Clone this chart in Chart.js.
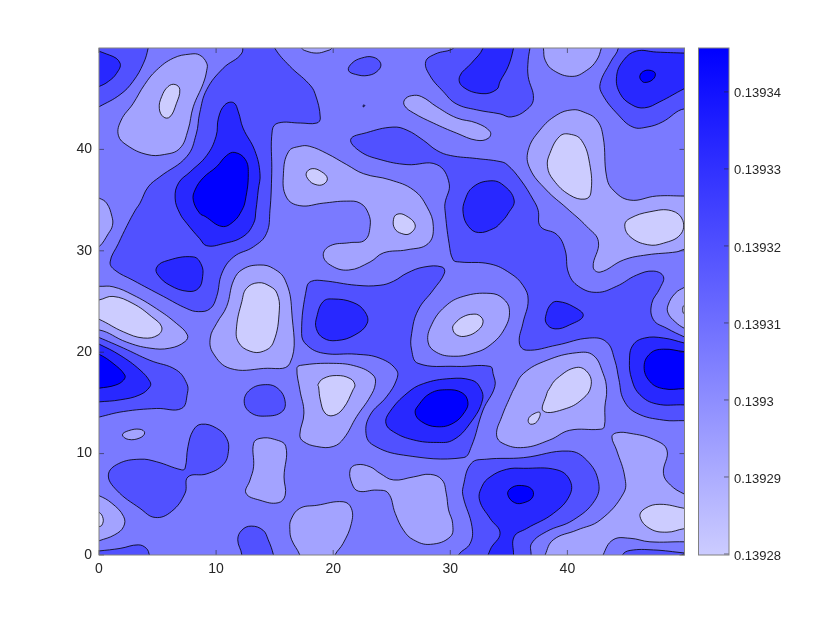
<!DOCTYPE html>
<html>
<head>
<meta charset="utf-8">
<style>
  html, body { margin: 0; padding: 0; background: #fff; }
  canvas { position: absolute; left: 0; top: 0; }
</style>
<script src="https://cdn.jsdelivr.net/npm/chart.js@4"></script>
</head>
<body>
<canvas id="contour" width="830" height="623"></canvas>
<canvas id="colorbar" width="830" height="623"></canvas>
<script>
// contour outlines in data units
const xTicks = [0, 10, 20, 30, 40];
const yTicks = [0, 10, 20, 30, 40];
const barTicks = [0.13934, 0.13933, 0.13932, 0.13931, 0.1393, 0.13929, 0.13928];
const barLabels = ['0.13934', '0.13933', '0.13932', '0.13931', '0.1393', '0.13929', '0.13928'];
const barRange = [0.13927987, 0.1393457];

const background = [[-2,-2],[52,-2],[52,52],[-2,52]];

const light1 = [
  [[9.2,48.5],[8.6,49.3],[7.8,49.4],[6.35,49],[4.9,47.8],[3.9,46.4],[2.9,44.5],[1.9,42.9],[1.65,41.4],[2.4,40.4],[4.1,39.5],[5.6,39.5],[6.9,40.1],[7.6,41.9],[8.05,44.2],[8.9,46.5],[9.2,47.8]],
  [[-1,35.6],[0,35.2],[0.65,34.7],[1.1,33.4],[1.15,32.5],[0.8,31.7],[0,30.4],[-1,29.8]],
  [[17,51],[17.3,50],[17.7,49.7],[18.6,49.5],[19.4,49.7],[19.9,50],[20.2,51]],
  [[37.8,51],[37.95,50],[38.1,48.8],[38.8,47.8],[40.4,47.2],[41.65,47.8],[42.5,48.8],[42.9,50],[43.1,51]],
  [[26.1,44.9],[26.7,45.3],[27.55,45.2],[28.85,44.2],[30.55,43.1],[32.25,42.6],[33.4,41.75],[33.25,41.1],[32.25,40.9],[30.55,41.6],[28.55,42.6],[26.85,43.6],[26.1,44.3]],
  [[40.4,43.9],[39.1,43.4],[37.65,41.9],[36.65,39.9],[36.8,38.1],[38.2,36],[39.95,34.2],[41.65,32.4],[42.65,30.9],[42.2,28.4],[42.8,27.9],[44.8,29.1],[46.8,29.6],[49.35,29.9],[50,30.15],[51,30.2],[51,35.4],[50,35.4],[47.6,35.4],[45.35,35],[43.9,36],[43.35,37.3],[43.05,41.25],[42.5,42.9],[41.35,43.7]],
  [[18,40.3],[17.15,40.3],[16.2,39.8],[15.75,37.6],[16,35.3],[17.15,34.45],[19.15,34.7],[21.15,34.9],[22.3,34.7],[23,33.7],[23.15,32.4],[22.7,31.05],[21.4,30.8],[19.75,30.5],[19.15,29.6],[19.75,28.6],[21.3,28.1],[23.15,28.9],[24.3,29.8],[26.3,30.1],[28.1,30.7],[28.55,32.4],[28,34.35],[26.85,36],[24.85,37],[22.6,37.6],[21.15,38.5],[19.45,39.6]],
  [[16.9,18.4],[17.2,18.7],[20,18.9],[22,18.6],[23.4,17.75],[23.6,16.9],[23.15,15.6],[22,13.65],[20.9,11.5],[20,10.7],[18.6,10.7],[17.45,11.2],[17.15,11.85],[17.5,14],[17.15,16.3]],
  [[13.2,11],[13.75,11.5],[15,11.4],[15.95,10.7],[15.8,7.7],[15.9,5.9],[15.3,5.15],[13.75,5.4],[12.55,6.1],[12.9,7.4],[13.2,8.7]],
  [[2,11.85],[2.5,12.25],[3.5,12.4],[3.9,12.05],[3.5,11.55],[2.5,11.4]],
  [[-1,6.2],[0,5.85],[1.1,5.1],[2.1,3.8],[2.1,2.8],[1.35,2],[0,1.4],[-1,1]],
  [[17.15,4.6],[18.6,4.9],[20.85,5.25],[21.55,4.6],[21.55,3.1],[20.85,1.15],[20.15,0],[19.9,-1],[17.3,-1],[17.15,0],[16.45,1.5],[16.3,2.5],[16.4,3.5]],
  [[21.45,8.4],[22,8.9],[23.15,8.7],[24,8.05],[25.15,7.4],[26.85,7.7],[28.3,7.95],[29.3,7.4],[29.65,6.1],[29.85,4.45],[30.2,3.1],[30,1.8],[28.3,1.05],[26.85,1.5],[26,2.45],[25.3,4.1],[24.7,6.1],[23.75,6.4],[22.15,6.3],[21.6,7.05]],
  [[35.4,16.3],[36.25,17.9],[38.25,19.2],[40.8,19.95],[42.2,19.7],[43.05,17.9],[43.35,16.3],[43.2,14.6],[43.15,12.65],[42.8,12.4],[40.2,12.3],[38.5,11.35],[36.25,10.6],[34.5,11],[33.95,11.85],[34.4,13.65],[35.25,15.95]],
  [[43.8,11.65],[44.2,12.05],[45.35,12],[47.35,11.4],[48.5,10.35],[48.2,8.05],[48.8,6.9],[50,6],[51,5.6],[51,1.2],[50,1.3],[47.05,1.3],[45.35,1.65],[43.9,1.5],[43.05,0],[42.9,-1],[37.9,-1],[38.1,0],[38.8,1.5],[40.8,2.45],[42.8,3.45],[44.8,6.1],[44.9,7.7],[44.2,10.35]],
  [[51,26.9],[50,26.4],[49.2,25.8],[48.6,24.65],[48.6,23.85],[49.2,23],[50,22.35],[51,21.9]],
  [[-1,26.6],[0,26.5],[1.2,26.45],[2.9,25.65],[4.9,24.3],[6.6,22.85],[7.55,21.7],[7.35,21.05],[6.05,20.4],[4.35,20.4],[2.35,21],[0,22.2],[-1,21.8]],
  [[13.75,28.6],[12.3,28.2],[11.5,27.1],[10.9,24.5],[10.05,22.85],[9.5,21.4],[9.75,19.9],[11.2,18.4],[14.05,18.4],[16.3,18.9],[16.45,24.15],[15.9,27.1],[14.9,28.25]],
  [[33.4,25.8],[34.5,25.3],[35.05,24.15],[34.65,22.35],[33.4,20.7],[31.95,19.9],[30.25,19.6],[28.8,20],[28.1,21],[28.4,22.7],[29.55,24.5],[31.1,25.5]]
];

const light2 = [
  [[6.9,45.9],[6.5,46.4],[5.9,46.2],[5.35,45.2],[5.15,44.05],[5.5,43.2],[6.05,43.2],[6.6,44.5]],
  [[40.2,41.5],[39.35,41.3],[38.5,39.6],[38.3,38.3],[38.8,37],[40.2,35.5],[41.5,35.1],[42,35.7],[41.9,38.6],[41.2,40.9]],
  [[44.9,32.55],[45.35,33.2],[47.05,33.85],[48.9,33.95],[49.85,33],[49.65,31.6],[48.2,30.75],[46.85,30.6],[45.35,31.4]],
  [[17.7,37.65],[18.2,38.1],[19,37.8],[19.5,37.15],[19.15,36.55],[18.45,36.55],[17.9,37]],
  [[25.15,33.1],[25.45,33.6],[26.15,33.5],[27,32.55],[26.55,31.7],[25.85,31.7],[25.25,32.2]],
  [[18.7,16.8],[19.15,17.4],[20.3,17.7],[21.45,17.4],[21.85,16.8],[21.7,16.3],[20.85,14.45],[20,13.75],[19.3,14],[18.9,15.3],[18.75,16.6]],
  [[-1,4.4],[0,4.2],[0.35,3.6],[0.25,2.95],[0,2.8],[-1,2.6]],
  [[38.4,16.3],[39.1,17.4],[40.8,18.5],[41.8,17.9],[42,16.6],[41.35,15.45],[39.9,14.45],[37.95,14.2],[38.25,15.95]],
  [[36.65,13.3],[36.95,13.8],[37.65,14.05],[37.4,13.15],[36.85,12.9]],
  [[46.2,3.8],[46.65,4.6],[47.9,5],[50,4.6],[51,4.4],[51,2.6],[50,2.6],[48.5,2.25],[47.05,2.6]],
  [[51,25],[50,24.65],[49.85,24.25],[50,23.75],[51,23.5]],
  [[-1,25],[0,25.15],[1.2,25.5],[2.9,24.8],[4.5,23.5],[5.35,22.5],[5.05,21.7],[3.8,21.4],[2.1,22],[0,23.25],[-1,23.6]],
  [[13.6,26.85],[12.6,26.3],[12.2,25],[11.75,22.5],[11.9,21],[12.9,20.1],[14.05,20.1],[14.9,21],[15.4,24.15],[15.2,25.8],[14.6,26.5]],
  [[31.95,23.75],[31.1,23.5],[30.4,22.85],[30.2,22.35],[30.55,21.7],[31.4,21.6],[32.4,22.2],[32.8,23],[32.5,23.6]]
];

const dark1 = [
  [[-1,51],[4.3,51],[4.2,50],[3.8,48.5],[2.9,46.7],[1.8,45.4],[0,44.2],[-1,43.6]],
  [[12.3,51],[12.2,49.5],[10.6,48],[9.2,45.9],[8.6,43.6],[8.3,41.5],[7.5,39.3],[5.2,37.3],[4.2,36.3],[3.5,34.7],[3.1,34],[2.4,32.5],[1.65,30.7],[0.95,28.9],[1.35,28.1],[2.9,27.1],[5.5,25.5],[7.5,24.3],[8.5,24],[9.5,24.3],[10.05,25.5],[10.5,27.8],[11.5,29.4],[13.2,30.4],[14.3,31.7],[14.6,34],[14.75,37.6],[14.8,41.9],[15.3,42.6],[17.2,42.6],[18.6,42.6],[18.9,43.1],[18.45,45.5],[17.9,46.5],[16.3,48.2],[15,50],[14.8,51]],
  [[21.3,47.8],[21.6,48.5],[22.4,49],[23.4,49.1],[24.05,48.5],[23.85,47.8],[23,47.3],[21.9,47.4]],
  [[22.55,44.2],[22.7,44.3],[22.6,44.4]],
  [[30.6,51],[30.3,50],[28.7,49.4],[27.9,48.65],[28.25,47.3],[29.4,45.7],[30.5,44.5],[32.25,43.9],[34.25,43.5],[35.2,43.2],[36.5,43.9],[37.1,45],[36.65,47.2],[36.65,48.8],[36.8,50],[36.9,51]],
  [[44.1,51],[44.35,50],[43.7,48.65],[42.8,46.5],[43,45.4],[44.35,43.4],[45.6,42.2],[46.8,42.2],[48.1,42.7],[50,44],[51,43.2],[51,51]],
  [[21.5,41],[22.85,41.65],[25.1,42.2],[26.3,41.9],[27.7,40.9],[28.85,39.9],[30,39.4],[32.25,39.1],[34.25,38.8],[34.85,38.5],[36,37],[37.1,35],[37.5,34],[37.7,32.4],[39.1,31.6],[39.8,30.1],[40.1,27.8],[40.95,26.5],[42.5,25.9],[44.2,26.5],[45.9,27.6],[47.35,28],[48.2,27.45],[47.9,26.3],[47.2,24.8],[47.35,23.2],[48.5,22.35],[50,21.5],[51,21],[51,13.2],[50,13.25],[48.2,13.3],[45.9,14],[44.8,15.3],[44.4,17.3],[44.05,19.2],[43.35,21],[41.9,21.4],[39.1,20.7],[36.5,20.2],[35.9,20.9],[36.2,22.85],[36.65,25.15],[36.2,26.6],[35.1,27.8],[33.4,28.7],[30.8,28.9],[30.25,29.1],[29.9,30.7],[29.55,34],[29.55,34.7],[29.9,36.65],[28.85,38.5],[26.3,38.5],[24,39],[22.3,39.8]],
  [[18.15,27],[17.75,26.45],[17.3,21.85],[17.75,20.7],[19.15,19.9],[22,19.8],[24,19.4],[25.4,18.25],[25.4,17.25],[24.55,15.6],[23.15,13.8],[22.8,12],[23.4,10.85],[26,9.85],[31.1,9.6],[31.8,10.7],[32.8,14.3],[33.8,16.6],[33.65,17.9],[33.4,18.6],[30.55,18.6],[27.25,18.9],[26.7,20.2],[26.7,21.85],[27.25,24.15],[28.55,26.15],[29.5,27.8],[29.3,28.4],[27.75,28.4],[26.3,27.8],[25.15,27],[24,26.6],[22,26.6],[19.15,27.05]],
  [[12.4,15.1],[12.9,16.3],[14.2,16.8],[15.3,16.4],[15.9,15.1],[15.6,14.1],[14.3,13.7],[13,14]],
  [[0.8,7.9],[1.65,9],[3.5,9.45],[4.9,9.2],[7.05,8.4],[7.35,8.55],[7.6,10.7],[8.05,12.3],[8.75,12.9],[10.05,12.5],[10.9,11.5],[11.05,10.2],[10.6,8.9],[9.2,8],[7.6,7.7],[7.35,6.1],[6.2,4.3],[4.8,3.7],[3.5,4.6],[1.5,6.4]],
  [[-1,0.3],[0,0.4],[1.8,0.65],[3.35,1],[4.05,0.65],[4.3,0],[4.5,-1],[-1,-1]],
  [[11.85,1.5],[12.2,2.45],[13,2.85],[14,2.45],[14.45,1.5],[14.9,0],[15,-1],[12.1,-1],[12.2,0]],
  [[30.5,-1],[30.7,0],[31.7,1.15],[31.85,2.8],[31.1,5.75],[31.1,6.75],[31.8,9.05],[33.1,9.45],[36.25,9.6],[40.1,10.25],[41.65,9.35],[42.65,7.25],[42.35,5.4],[40.5,3.45],[38.2,2.3],[36.95,1.15],[36.9,0],[36.9,-1]],
  [[44.6,-1],[44.7,0],[45.35,0.45],[47.35,0.5],[50,0.2],[51,0.1],[51,-1]],
  [[-1,21.9],[0,21.45],[2.1,20.4],[4.35,19.2],[6.6,18.25],[7.5,16.9],[7.55,15.95],[7.05,14.45],[4.9,14.45],[2.1,14.15],[0,13.6],[-1,13.3]]
];

const dark2 = [
  [[-1,49.6],[0.9,49.3],[1.8,48.5],[1.5,47.5],[0.8,46.7],[0,46.2],[-1,45.8]],
  [[11.5,44.6],[10.75,44.4],[10.2,43.1],[10,41.3],[9.2,39.4],[7.8,37.8],[6.8,36.7],[6.5,35.2],[6.9,33.7],[7.5,32.7],[8.6,31.2],[9.2,30.5],[10.6,30.7],[12.3,31.4],[13.2,32.7],[13.4,34],[13.6,36],[13.75,37.6],[13.3,39.9],[12.3,42.1],[11.9,43.7]],
  [[32.7,51],[32.8,50],[31.8,48.5],[30.8,47.2],[31.05,46.2],[32.7,45.5],[33.95,45.9],[34.25,46.7],[34.95,48.2],[35.4,50],[35.5,51]],
  [[51,49.5],[50,49.5],[47.6,49.6],[45.9,49.7],[44.8,48.8],[44.2,47.2],[44.5,45.5],[45.5,44.4],[46.6,44.1],[47.9,44.7],[50,46],[51,46.5]],
  [[33.4,36.9],[34.5,36.5],[35.45,35],[34.95,33.7],[34.25,32.7],[33.7,32.2],[32.4,31.8],[31.55,32.4],[31.1,33.7],[31.25,35],[31.95,36.3]],
  [[39.2,25],[38.65,24.8],[38.2,23.8],[38.2,22.85],[38.95,22.3],[40.2,22.7],[41.35,23.6],[40.5,24.5]],
  [[51,20.6],[50,20.9],[48.2,21.4],[46.6,21.4],[45.6,20.7],[45.3,19.2],[45.5,17.3],[46.2,15.8],[47.6,14.9],[50,14.8],[51,14.7]],
  [[20,25.25],[19.15,25],[18.6,23.5],[18.55,22.35],[19.15,21.4],[20.3,21.15],[21.85,21.7],[22.9,22.85],[22.7,24],[21.7,24.9]],
  [[27.7,16.9],[26.3,15.95],[24.85,14.15],[24.5,13],[25.15,12.15],[26.85,11.35],[28.85,11.1],[30.25,11.35],[31.7,13],[32.75,15.3],[32.5,16.6],[31.8,17.25],[30,17.4]],
  [[33.2,-1],[33.4,0.5],[34.25,2.15],[33.4,3.6],[32.5,5.4],[32.7,6.75],[33.4,7.7],[34.8,8.45],[36.25,8.55],[39.1,8.4],[40.2,7.4],[40.2,5.9],[38.8,4.1],[36.5,2.6],[35.45,1.8],[35.4,0],[35.4,-1]],
  [[4.9,28.3],[5.6,28.95],[8.05,29.4],[8.75,28.6],[8.85,27.45],[8.5,26.3],[7.6,26],[6.05,26.6],[5.05,27.6]],
  [[-1,21.3],[0,20.8],[1.8,19.7],[3.5,18.25],[4.35,17.1],[4.35,16.6],[3.5,15.8],[1.8,15.3],[0,15.1],[-1,15]]
];

const dark3 = [
  [[11.6,39.7],[10.9,39.4],[10.05,38.3],[8.9,37.2],[8.2,36],[8.05,35],[8.6,33.7],[9.05,33.4],[10.5,32.4],[11.5,32.9],[12.2,34],[12.5,35],[12.75,37.6],[12.5,39]],
  [[46.2,47.3],[46.5,47.7],[47.05,47.8],[47.5,47.5],[47.3,46.9],[46.6,46.6],[46.25,46.9]],
  [[51,20],[50,20.05],[48.2,20.3],[47.1,19.9],[46.55,18.6],[47.05,17.1],[48.2,16.4],[50,16.4],[51,16.4]],
  [[29.7,16.3],[28.3,15.95],[27.3,14.8],[27,14],[27.55,13.15],[28.85,12.65],[30.25,13],[31.25,14.15],[31.5,15.1],[31,16]],
  [[34.9,6],[35.25,6.65],[36.1,6.85],[36.95,6.5],[37.05,5.75],[36.4,5.2],[35.5,5.15]],
  [[-1,20.2],[0,19.8],[1.2,18.9],[2.2,17.75],[2.1,17.25],[1.4,16.75],[0,16.45],[-1,16.3]]
];

const bandColors = { light1: '#a3a3ff', light2: '#ccccff', base: '#7a7aff', dark1: '#5151ff', dark2: '#2828ff', dark3: '#0000ff' };
const tickFont = { family: "'Liberation Sans', Arial, sans-serif", size: 14 };

function region(points, color) {
  return {
    data: points,
    showLine: true,
    fill: 'shape',
    backgroundColor: color,
    borderColor: '#000',
    borderWidth: 0.8,
    tension: 0.42,
    capBezierPoints: false,
    pointRadius: 0,
    clip: 0
  };
}

// painted outer bands first, chart.js draws the last dataset first
const painted = [{ data: background, showLine: true, fill: 'shape', backgroundColor: bandColors.base, borderWidth: 0, pointRadius: 0, clip: 0 }];
[[light1, bandColors.light1], [light2, bandColors.light2], [dark1, bandColors.dark1], [dark2, bandColors.dark2], [dark3, bandColors.dark3]].forEach(function (band) {
  band[0].forEach(function (p) { painted.push(region(p, band[1])); });
});

// same flags the radar controller sets, so each outline closes smoothly
const closedLines = {
  id: 'closedLines',
  afterDatasetsUpdate(chart) {
    chart.getSortedVisibleDatasetMetas().forEach(function (meta) {
      meta.dataset._loop = true;
      meta.dataset._fullLoop = true;
      meta.dataset._segments = undefined;
      meta.dataset._pointsUpdated = false;
    });
  }
};

// ticks point into the box, on both sides
const frame = {
  id: 'frame',
  afterDatasetsDraw(chart) {
    const c = chart.ctx, a = chart.chartArea;
    c.save();
    c.lineWidth = 0.6;
    c.strokeStyle = '#262626';
    c.beginPath();
    if (chart.scales.x.options.display) {
      chart.scales.x.ticks.forEach(function (t) {
        const px = chart.scales.x.getPixelForValue(t.value);
        c.moveTo(px, a.bottom); c.lineTo(px, a.bottom - 5);
        c.moveTo(px, a.top); c.lineTo(px, a.top + 5);
      });
    }
    chart.scales.y.ticks.forEach(function (t) {
      const py = chart.scales.y.getPixelForValue(t.value);
      c.moveTo(a.right, py); c.lineTo(a.right - 5, py);
      if (chart.scales.x.options.display) { c.moveTo(a.left, py); c.lineTo(a.left + 5, py); }
    });
    c.stroke();
    c.strokeStyle = '#808080';
    c.lineWidth = 1;
    c.strokeRect(a.left, a.top, a.right - a.left, a.bottom - a.top);
    c.restore();
  }
};

new Chart(document.getElementById('contour'), {
  type: 'scatter',
  data: { datasets: painted.reverse() },
  plugins: [closedLines, frame],
  options: {
    responsive: false,
    animation: false,
    events: [],
    layout: { padding: { left: 0, top: 48, right: 145.5, bottom: 0 } },
    plugins: { legend: { display: false }, tooltip: { enabled: false } },
    scales: {
      x: {
        type: 'linear', min: 0, max: 50,
        grid: { display: false, drawTicks: false }, border: { display: false },
        afterBuildTicks(s) { s.ticks = xTicks.map(function (v) { return { value: v }; }); },
        afterFit(s) { s.height = 68; },
        ticks: { font: tickFont, color: '#262626', padding: 6, maxRotation: 0 }
      },
      y: {
        type: 'linear', min: 0, max: 50,
        grid: { display: false, drawTicks: false }, border: { display: false },
        afterBuildTicks(s) { s.ticks = yTicks.map(function (v) { return { value: v }; }); },
        afterFit(s) { s.width = 99; },
        ticks: { font: tickFont, color: '#262626', padding: 7 }
      }
    }
  }
});

new Chart(document.getElementById('colorbar'), {
  type: 'bar',
  data: {
    labels: [''],
    datasets: [{
      data: [barRange],
      barPercentage: 1,
      categoryPercentage: 1,
      backgroundColor(ctx) {
        const a = ctx.chart.chartArea;
        if (!a) return '#7a7aff';
        const g = ctx.chart.ctx.createLinearGradient(0, a.bottom, 0, a.top);
        g.addColorStop(0, '#ccccff');
        g.addColorStop(1, '#0000ff');
        return g;
      }
    }]
  },
  plugins: [frame],
  options: {
    responsive: false,
    animation: false,
    events: [],
    layout: { padding: { left: 698.5, top: 48, right: 0, bottom: 68 } },
    plugins: { legend: { display: false }, tooltip: { enabled: false } },
    scales: {
      x: { display: false },
      y: {
        position: 'right',
        min: barRange[0], max: barRange[1],
        grid: { display: false, drawTicks: false }, border: { display: false },
        afterBuildTicks(s) { s.ticks = barTicks.map(function (v) { return { value: v }; }); },
        afterFit(s) { s.width = 101; },
        ticks: {
          font: { family: tickFont.family, size: 13 }, color: '#262626', padding: 5, labelOffset: 2,
          callback(v, i) { return barLabels[i]; }
        }
      }
    }
  }
});
</script>
</body>
</html>
